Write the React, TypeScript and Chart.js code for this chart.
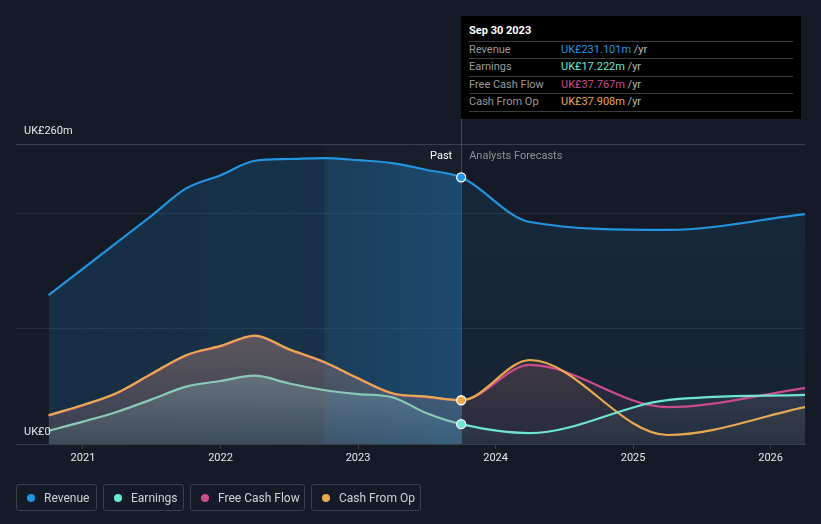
import React, { useEffect, useRef } from "react";
import { Chart, registerables } from "chart.js";

Chart.register(...registerables);

const pastX = [2020.75, 2021.0, 2021.25, 2021.5, 2021.75, 2022.0, 2022.25, 2022.5, 2022.75, 2023.0, 2023.25, 2023.5, 2023.75];
const forecastX = [2024.25, 2025.25, 2026.25];

const revenuePast = [129, 152, 175, 198, 221.5, 233, 245.5, 247, 247.8, 246, 243.5, 237.5, 231.101];
const revenueForecast = [192.4, 185.5, 199.3];
const earningsPast = [11.5, 19.4, 28, 38.7, 49.7, 54.6, 59.2, 52.4, 46.8, 43.3, 40.5, 26.6, 17.222];
const earningsForecast = [9.5, 38, 42.5];
const fcfPast = [24.6, 33.4, 44.1, 60.6, 76.6, 84.6, 93.6, 81.6, 70.9, 56.6, 43.6, 40.6, 37.767];
const fcfForecast = [68.5, 32, 48.5];
const cfoPast = [25, 33.8, 44.5, 61, 77, 85, 94, 82, 71.3, 57, 44, 41, 37.908];
const cfoForecast = [72.8, 7.8, 32];

const xTicks = [2021, 2022, 2023, 2024, 2025, 2026];
const yGrid = [0, 100, 200, 260];
const yLabels = ["UK£0", "UK£260m"];
const PAST_END = 2023.75;
const BAND_START = 2022.75;

const tooltipTitle = "Sep 30 2023";
const tooltipRows = [
  { label: "Revenue", value: "UK£231.101m", color: "#2394df" },
  { label: "Earnings", value: "UK£17.222m", color: "#6ee6d2" },
  { label: "Free Cash Flow", value: "UK£37.767m", color: "#cc4a8e" },
  { label: "Cash From Op", value: "UK£37.908m", color: "#e9a94f" },
];
const legendItems = [
  { label: "Revenue", color: "#2394df", width: 81 },
  { label: "Earnings", color: "#6ee6d2", width: 81 },
  { label: "Free Cash Flow", color: "#cc4a8e", width: 115 },
  { label: "Cash From Op", color: "#e9a94f", width: 110 },
];

const BG = "#151b26";
const FONT = "Roboto, 'Noto Sans', sans-serif";

function pts(past: number[], fc: number[]) {
  const xs = [...pastX, ...forecastX];
  const ys = [...past, ...fc];
  return xs.map((x, i) => ({ x, y: ys[i] }));
}

function vg(chart: any, rgb: string, topVal: number, aTop: number, aBot: number) {
  const { ctx, chartArea, scales } = chart;
  if (!chartArea || !scales.y) return null;
  const y0 = scales.y.getPixelForValue(topVal);
  const g = ctx.createLinearGradient(0, y0, 0, chartArea.bottom);
  g.addColorStop(0, `rgba(${rgb},${aTop})`);
  g.addColorStop(1, `rgba(${rgb},${aBot})`);
  return g;
}

function pastBandGradient(chart: any, rgb: string) {
  const { ctx, chartArea, scales } = chart;
  if (!chartArea || !scales.x) return null;
  const x0 = chartArea.left;
  const x1 = scales.x.getPixelForValue(PAST_END);
  const xb = scales.x.getPixelForValue(BAND_START);
  const t = (xb - x0) / (x1 - x0);
  const g = ctx.createLinearGradient(x0, 0, x1, 0);
  g.addColorStop(0, `rgba(${rgb},0.16)`);
  g.addColorStop(t, `rgba(${rgb},0.19)`);
  g.addColorStop(Math.min(1, t + 0.004), `rgba(${rgb},0.26)`);
  g.addColorStop(1, `rgba(${rgb},0.38)`);
  return g;
}

type FillFn = (chart: any) => any;

function region(x: number) {
  return x < PAST_END - 0.001 ? 0 : 1;
}

function ds(label: string, past: number[], fc: number[], linePast: string, lineFc: string, fills: FillFn[], marker: boolean) {
  const cache: any[] = [];
  const getFill = (r: number, chart: any) => {
    if (cache[r]) return cache[r];
    const g = fills[r](chart);
    if (g) cache[r] = g;
    return g || "rgba(0,0,0,0)";
  };
  return {
    label,
    data: pts(past, fc),
    borderColor: lineFc,
    backgroundColor: "rgba(0,0,0,0)",
    borderWidth: 2.2,
    fill: "origin",
    cubicInterpolationMode: "monotone" as const,
    pointRadius: (c: any) => (marker && c.raw && c.raw.x === PAST_END ? 4.5 : 0),
    pointHoverRadius: 0,
    pointBackgroundColor: lineFc,
    pointBorderColor: "#ffffff",
    pointBorderWidth: 1.3,
    segment: {
      borderColor: (c: any) => (region(c.p0.parsed.x) === 1 ? lineFc : linePast),
      borderDashOffset: (c: any) => region(c.p0.parsed.x),
      backgroundColor: (c: any) => getFill(region(c.p0.parsed.x), c.chart),
    },
  };
}

const BLUE = "35,148,223";
const ORANGE = "233,169,79";
const PINK = "204,74,142";

const overlayPlugin = {
  id: "overlay",
  beforeDatasetsDraw(chart: any) {
    const { ctx, chartArea, scales } = chart;
    const x = scales.x;
    const x1 = x.getPixelForValue(BAND_START);
    const x2 = x.getPixelForValue(PAST_END);
    ctx.save();
    ctx.fillStyle = "rgba(150,190,230,0.025)";
    ctx.fillRect(x1, chartArea.top, x2 - x1, chartArea.bottom - chartArea.top);
    ctx.strokeStyle = "rgba(90,120,150,0.55)";
    ctx.lineWidth = 1;
    ctx.beginPath();
    ctx.moveTo(Math.round(x2) + 0.5, 119);
    ctx.lineTo(Math.round(x2) + 0.5, chartArea.bottom);
    ctx.stroke();
    ctx.restore();
  },
  afterDraw(chart: any) {
    const { ctx, chartArea, scales } = chart;
    const x = scales.x;
    const y = scales.y;
    const xp = x.getPixelForValue(PAST_END);
    ctx.save();
    ctx.font = `11px ${FONT}`;
    ctx.textBaseline = "middle";
    ctx.textAlign = "right";
    ctx.fillStyle = "#ffffff";
    ctx.fillText("Past", xp - 9, chartArea.top + 12);
    ctx.textAlign = "left";
    ctx.fillStyle = "#8b9099";
    ctx.fillText("Analysts Forecasts", xp + 8, chartArea.top + 12);
    ctx.fillStyle = "#e6e8ea";
    ctx.fillText(yLabels[1], chartArea.left + 8, y.getPixelForValue(260) - 13);
    ctx.fillText(yLabels[0], chartArea.left + 8, y.getPixelForValue(0) - 12);
    ctx.restore();
  },
};

export default function App() {
  const ref = useRef<HTMLCanvasElement | null>(null);
  useEffect(() => {
    if (!ref.current) return;
    const chart = new Chart(ref.current, {
      type: "line",
      data: {
        datasets: [
          ds("Revenue", revenuePast, revenueForecast, "#2394df", "#2394df", [
            (ch) => pastBandGradient(ch, BLUE),
            (ch) => vg(ch, BLUE, 200, 0.11, 0.07),
          ], true),
          ds("Earnings", earningsPast, earningsForecast, "#8ccab8", "#6ee6d2", [
            (ch) => vg(ch, "150,170,165", 60, 0.4, 0.12),
            (ch) => vg(ch, "80,110,120", 40, 0.22, 0.1),
          ], true),
          ds("Cash From Op", cfoPast, cfoForecast, "#e9a94f", "#e9a94f", [
            (ch) => vg(ch, ORANGE, 95, 0.28, 0.1),
            (ch) => vg(ch, ORANGE, 73, 0.11, 0.04),
          ], true),
          ds("Free Cash Flow", fcfPast, fcfForecast, "#cc4a8e", "#cc4a8e", [
            (ch) => vg(ch, PINK, 95, 0.2, 0.08),
            (ch) => vg(ch, PINK, 68, 0.13, 0.05),
          ], false),
        ] as any,
      },
      options: {
        animation: false,
        responsive: false,
        maintainAspectRatio: false,
        layout: { padding: { left: 16, right: 16, top: 144, bottom: 50 } },
        plugins: {
          legend: { display: false },
          tooltip: { enabled: false },
          filler: { drawTime: "beforeDatasetsDraw" } as any,
        },
        scales: {
          x: {
            type: "linear",
            min: 2020.513,
            max: 2026.25,
            afterBuildTicks: (s: any) => {
              s.ticks = xTicks.map((v) => ({ value: v }));
            },
            afterFit: (s: any) => {
              s.height = 30;
            },
            ticks: {
              color: "#e6e8ea",
              font: { size: 11, family: FONT },
              padding: 3,
              maxRotation: 0,
              callback: (v: any) => String(v),
            },
            grid: { drawOnChartArea: false, drawTicks: true, tickLength: 5, color: "#3a404a" },
            border: { display: true, color: "#3a404a" },
          },
          y: {
            type: "linear",
            min: 0,
            max: 260,
            afterBuildTicks: (s: any) => {
              s.ticks = yGrid.map((v) => ({ value: v }));
            },
            afterFit: (s: any) => {
              s.width = 0;
            },
            ticks: { display: false },
            grid: {
              drawTicks: false,
              tickLength: 0,
              color: (c: any) => (c.tick && c.tick.value === 260 ? "#3b404a" : c.tick && c.tick.value === 0 ? "rgba(0,0,0,0)" : "#252b36"),
            },
            border: { display: false },
          },
        },
      },
      plugins: [overlayPlugin],
    });
    return () => chart.destroy();
  }, []);

  return (
    <div style={{ position: "fixed", left: 0, top: 0, width: 821, height: 524, background: BG, fontFamily: FONT, overflow: "hidden" }}>
      <canvas ref={ref} width={821} height={524} style={{ position: "absolute", left: 0, top: 0, width: 821, height: 524 }} />
      <div style={{ position: "absolute", left: 461, top: 16, width: 340, height: 103, background: "#000000" }}>
        <div style={{ position: "absolute", left: 8, top: 8, fontSize: 11, fontWeight: 700, color: "#ffffff", lineHeight: "14px" }}>{tooltipTitle}</div>
        {tooltipRows.map((r, i) => (
          <div key={r.label} style={{ position: "absolute", left: 8, top: 25 + i * 17.3, width: 324, height: 17, borderTop: "1px solid #3d3d3d", fontSize: 11, lineHeight: "16px" }}>
            <span style={{ position: "absolute", left: 0, top: 0, color: "#9a9a9a" }}>{r.label}</span>
            <span style={{ position: "absolute", left: 92, top: 0, color: r.color, whiteSpace: "nowrap" }}>
              {r.value}
              <span style={{ color: "#b8b8b8" }}> /yr</span>
            </span>
          </div>
        ))}
        <div style={{ position: "absolute", left: 8, top: 94.5, width: 324, borderTop: "1px solid #3d3d3d" }} />
      </div>
      <div style={{ position: "absolute", left: 16, top: 484, display: "flex", gap: 6 }}>
        {legendItems.map((l) => (
          <div key={l.label} style={{ boxSizing: "border-box", width: l.width, height: 27, border: "1px solid #3a404a", borderRadius: 3, display: "flex", alignItems: "center", paddingLeft: 10 }}>
            <span style={{ width: 8, height: 8, borderRadius: 4, background: l.color, display: "inline-block", marginRight: 9 }} />
            <span style={{ fontSize: 12, color: "#cfd3d8", whiteSpace: "nowrap" }}>{l.label}</span>
          </div>
        ))}
      </div>
    </div>
  );
}
